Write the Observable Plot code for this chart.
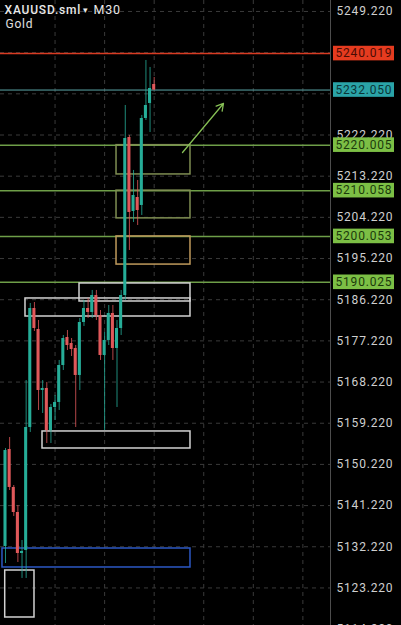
<!DOCTYPE html>
<html><head><meta charset="utf-8">
<script src="https://cdn.jsdelivr.net/npm/d3@7"></script>
<script src="https://cdn.jsdelivr.net/npm/@observablehq/plot@0.6"></script>
<style>
html,body{margin:0;padding:0;background:#000;}
#chart{width:401px;height:625px;overflow:hidden;}
#chart svg text{letter-spacing:0.8px;}
#chart svg g[aria-label="title"] text{letter-spacing:0px;}
</style>
</head><body><div id="chart"></div>
<script>
// ---- data ----
const opens  = [5132.28,5153.48,5145.18,5139.71,5130.75,5131.41,5158.29,5184.30,5179.71,5166.38,5166.82,5157.63,5162.66,5163.76,5171.84,5177.96,5176.65,5175.56,5169.66,5181.24,5184.30,5183.43,5187.14,5182.77,5174.03,5177.31,5183.21,5175.56,5179.93,5187.14,5221.68,5205.50,5208.56,5206.82,5225.83,5229.11,5233.26];
const highs  = [5153.70,5156.10,5145.61,5141.24,5133.59,5168.56,5185.39,5185.61,5181.68,5168.56,5168.13,5163.32,5165.29,5172.94,5178.40,5179.49,5177.74,5176.21,5182.12,5186.05,5186.49,5188.24,5188.24,5183.86,5179.06,5184.96,5184.96,5181.68,5188.24,5228.67,5222.12,5214.47,5212.28,5226.49,5238.51,5236.98,5234.79];
const lows   = [5128.56,5144.52,5138.84,5128.78,5125.29,5125.29,5157.20,5179.27,5162.01,5161.35,5154.79,5154.79,5159.82,5162.01,5170.75,5175.12,5173.81,5158.29,5166.38,5180.37,5182.12,5182.12,5181.68,5172.94,5157.63,5176.21,5172.94,5162.66,5178.40,5186.05,5196.98,5203.10,5202.44,5204.63,5225.39,5222.77,5231.95];
const closes = [5153.26,5145.18,5139.71,5130.75,5131.19,5158.29,5184.30,5179.93,5166.38,5166.82,5157.63,5162.66,5163.76,5171.84,5177.74,5176.21,5175.34,5169.66,5181.24,5184.30,5183.43,5187.14,5182.77,5174.03,5177.31,5183.21,5175.56,5179.93,5187.14,5221.46,5205.29,5209.00,5205.72,5225.83,5228.67,5232.39,5232.05];

const yTicks = [5249.22,5240.22,5231.22,5222.22,5213.22,5204.22,5195.22,5186.22,5177.22,5168.22,5159.22,5150.22,5141.22,5132.22,5123.22,5114.22];
// tick labels visible in the picture (5240.220 and 5231.220 are hidden behind price tags)
const yTickLabels = [5249.22,5222.22,5213.22,5204.22,5195.22,5186.22,5177.22,5168.22,5159.22,5150.22,5141.22,5132.22,5123.22,5114.22];
const timeGrid = [12,24,36,48,60,72];

const levelPrices = [5240.019,5232.050,5220.005,5210.058,5200.053,5190.025];
const levelKinds  = ["red","cyan","green","green","green","green"];

const zoneX1 = [26.88,26.88,26.88,17.92,4.84,8.96,-0.73,-0.07];
const zoneX2 = [44.79,44.79,44.79,44.79,44.79,44.79,44.79,7.02];
const zoneTop = [5220.0,5210.06,5200.05,5189.77,5186.49,5157.42,5131.84,5127.03];
const zoneBot = [5213.6,5204.0,5193.9,5185.83,5182.55,5153.70,5127.69,5116.76];
const zoneKind = ["olive","olive","tan","white","white","white","blue","white"];

const arrowFrom = {i:42.86, p:5218.40};
const arrowTo   = {i:52.78, p:5229.11};

// ---- styling ----
const W = 401, H = 625, MR = 71;
const xDomain = [-1.21, 78.69];
const yDomain = [5115.01, 5251.62];
const UP = "#26ad98", DOWN = "#e0585a";
const kindStroke = {red:"#d93b22", cyan:"#5aa6a8", green:"#6e9e48"};
const kindFill = {red:"#e53b1f", cyan:"#2aa3a7", green:"#7cbf45"};
const kindText = {red:"#4a0c04", cyan:"#0b3436", green:"#1b3a0b"};
const zoneStroke = {olive:"#7f8e52", tan:"#bf9a5c", white:"#d2d2d2", blue:"#2c58c4"};

const pxToIdx = px => xDomain[0] + px / (W - MR) * (xDomain[1] - xDomain[0]);
const unitsPerPx = (yDomain[1] - yDomain[0]) / H;

const candles = opens.map((o, i) => ({i, open:o, high:highs[i], low:lows[i], close:closes[i], up: closes[i] >= o}));
const levels = levelPrices.map((p, k) => ({price:p, kind:levelKinds[k]}));
const zones = zoneX1.map((x1, k) => ({x1, x2:zoneX2[k], top:zoneTop[k], bot:zoneBot[k], kind:zoneKind[k]}));

const chart = Plot.plot({
  width: W, height: H,
  marginLeft: 0, marginRight: MR, marginTop: 0, marginBottom: 0,
  x: {domain: xDomain, axis: null},
  y: {domain: yDomain, axis: null},
  style: {background:"#000", color:"#cfcfcf", fontFamily:"Roboto, sans-serif", fontSize:"12px", overflow:"visible"},
  marks: [
    Plot.gridY(yTicks, {stroke:"#3a3a3a", strokeOpacity:1, strokeDasharray:"4,4"}),
    Plot.gridX(timeGrid, {stroke:"#3a3a3a", strokeOpacity:1, strokeDasharray:"4,4"}),
    Plot.frame({anchor:"right", stroke:"#4d4d4d"}),
    Plot.axisY(yTickLabels, {anchor:"right", tickSize:0, tickPadding:6, tickFormat:d3.format(".3f"), fill:"#cfcfcf", fontSize:12, label:null}),
    // level lines
    Plot.ruleY(levels, {y:"price", stroke:d=>kindStroke[d.kind], strokeWidth:d=>d.kind==="cyan"?1:1.5, strokeDasharray:d=>d.kind==="cyan"?"2,2":null}),
    // zones
    Plot.rect(zones, {x1:"x1", x2:"x2", y1:"bot", y2:"top", fill:"none", stroke:d=>zoneStroke[d.kind], strokeWidth:1.5}),
    // candles
    Plot.ruleX(candles, {x:"i", y1:"low", y2:"high", stroke:d=>d.up?UP:DOWN, strokeWidth:1, strokeOpacity:0.8}),
    Plot.rect(candles, {x1:d=>d.i-0.37, x2:d=>d.i+0.37, y1:"open", y2:"close", fill:d=>d.up?UP:DOWN}),
    // arrow
    Plot.arrow([{x1:arrowFrom.i, y1:arrowFrom.p, x2:arrowTo.i, y2:arrowTo.p}], {x1:"x1", y1:"y1", x2:"x2", y2:"y2", stroke:"#86bf55", strokeWidth:1.3, headLength:9}),
    // price labels
    Plot.rect(levels, {x1:pxToIdx(333), x2:pxToIdx(394), y1:d=>d.price - 7.3*unitsPerPx, y2:d=>d.price + 7.3*unitsPerPx, fill:d=>kindFill[d.kind]}),
    Plot.text(levels, {y:"price", text:d=>d.price.toFixed(3), frameAnchor:"right", dx:5, textAnchor:"start", fill:d=>kindText[d.kind], fontSize:12}),
    // title
    Plot.text(["XAUUSD.sml"], {frameAnchor:"top-left", dx:4, dy:5, lineAnchor:"top", textAnchor:"start", fill:"#e8e8e8", fontSize:12, fontWeight:500, ariaLabel:"title"}),
    Plot.text(["▾"], {frameAnchor:"top-left", dx:82, dy:6, lineAnchor:"top", textAnchor:"start", fill:"#e8e8e8", fontSize:9, ariaLabel:"title"}),
    Plot.text(["M30"], {frameAnchor:"top-left", dx:93, dy:5, lineAnchor:"top", textAnchor:"start", fill:"#e8e8e8", fontSize:12.5, ariaLabel:"title"}),
    Plot.text(["Gold"], {frameAnchor:"top-left", dx:5, dy:19, lineAnchor:"top", textAnchor:"start", fill:"#e0e0e0", fontSize:12, ariaLabel:"title"})
  ]
});
document.getElementById("chart").appendChild(chart);
</script>
</body></html>
